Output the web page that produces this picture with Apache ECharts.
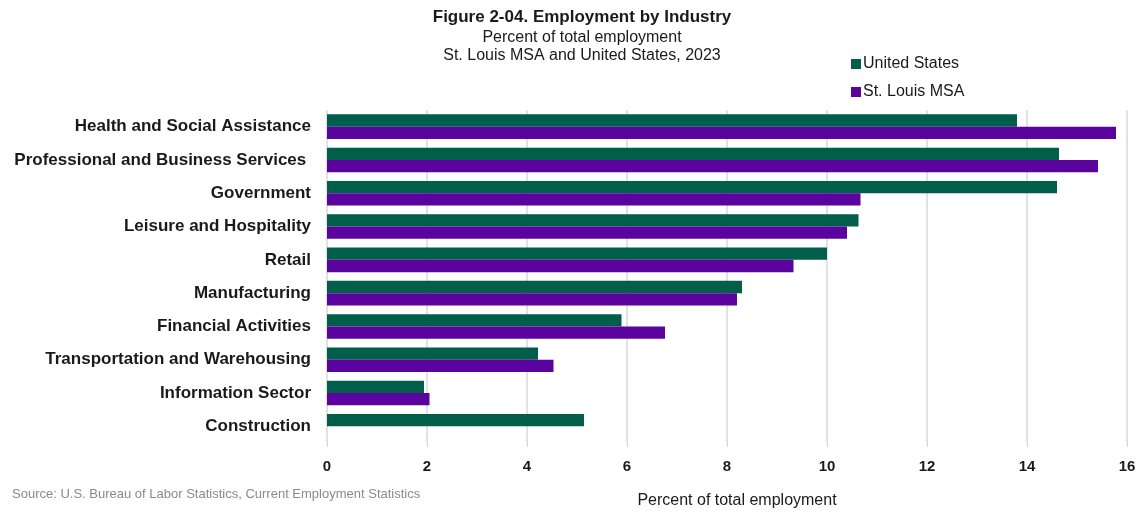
<!DOCTYPE html>
<html>
<head>
<meta charset="utf-8">
<script src="https://cdn.jsdelivr.net/npm/echarts@6/dist/echarts.min.js"></script>
<style>
  html, body { margin: 0; padding: 0; background: #fff; }
  #chart { width: 1139px; height: 514px; }
</style>
</head>
<body>
<div id="chart"></div>
<script>
const categories = [
  "Health and Social Assistance",
  "Professional and Business Services ",
  "Government",
  "Leisure and Hospitality",
  "Retail",
  "Manufacturing",
  "Financial Activities",
  "Transportation and Warehousing",
  "Information Sector",
  "Construction"
];
const unitedStates = [13.8, 14.64, 14.6, 10.63, 10.0, 8.3, 5.89, 4.22, 1.94, 5.14];
const stLouisMSA = [15.78, 15.42, 10.67, 10.4, 9.33, 8.2, 6.76, 4.53, 2.05, null];
const xTicks = [0, 2, 4, 6, 8, 10, 12, 14, 16];

const FONT = "'Liberation Sans', Arial, sans-serif";
const chart = echarts.init(document.getElementById('chart'));
chart.setOption({
  animation: false,
  textStyle: { fontFamily: FONT },
  title: {
    text: 'Figure 2-04. Employment by Industry',
    subtext: 'Percent of total employment\nSt. Louis MSA and United States, 2023',
    left: 577, top: 2, textAlign: 'center',
    itemGap: 2,
    textStyle: { fontFamily: FONT, fontSize: 17, fontWeight: 'bold', color: '#1a1a1a', lineHeight: 20 },
    subtextStyle: { fontFamily: FONT, fontSize: 16, color: '#1a1a1a', lineHeight: 18 }
  },
  legend: {
    orient: 'vertical', left: 846, top: 51,
    itemWidth: 10, itemHeight: 10, itemGap: 12,
    icon: 'rect',
    textStyle: { fontFamily: FONT, fontSize: 16, color: '#1a1a1a', padding: [0, 0, 0, -3] },
    data: ['United States', 'St. Louis MSA']
  },
  grid: { left: 327, right: 12, top: 110, bottom: 71, containLabel: false },
  xAxis: {
    type: 'value', min: xTicks[0], max: xTicks[xTicks.length - 1], interval: 2,
    axisLine: { show: false },
    axisTick: { show: true, length: 4, lineStyle: { color: '#d0d0d0' } },
    axisLabel: { fontFamily: FONT, fontSize: 15, fontWeight: 'bold', color: '#1a1a1a', margin: 16 },
    splitLine: { show: true, lineStyle: { color: '#d9d9d9', width: 1.5 } }
  },
  yAxis: {
    type: 'category', data: categories, inverse: true,
    axisLine: { show: false },
    axisTick: { show: false },
    axisLabel: { fontFamily: FONT, fontSize: 17, fontWeight: 'bold', color: '#1a1a1a', margin: 16 }
  },
  series: [
    { name: 'United States', type: 'bar', data: unitedStates, barGap: '0%', barCategoryGap: '26%',
      itemStyle: { color: '#005E4B' } },
    { name: 'St. Louis MSA', type: 'bar', data: stLouisMSA, barGap: '0%', barCategoryGap: '26%',
      itemStyle: { color: '#5A039F' } }
  ],
  graphic: [
    { type: 'text', left: 12, top: 488,
      style: { text: 'Source: U.S. Bureau of Labor Statistics, Current Employment Statistics',
               font: '13px ' + FONT, fill: '#8a8a8a' } },
    { type: 'text', x: 737, y: 501,
      style: { text: 'Percent of total employment', font: '16px ' + FONT, fill: '#1a1a1a',
               align: 'center', verticalAlign: 'middle' } }
  ]
});
</script>
</body>
</html>
